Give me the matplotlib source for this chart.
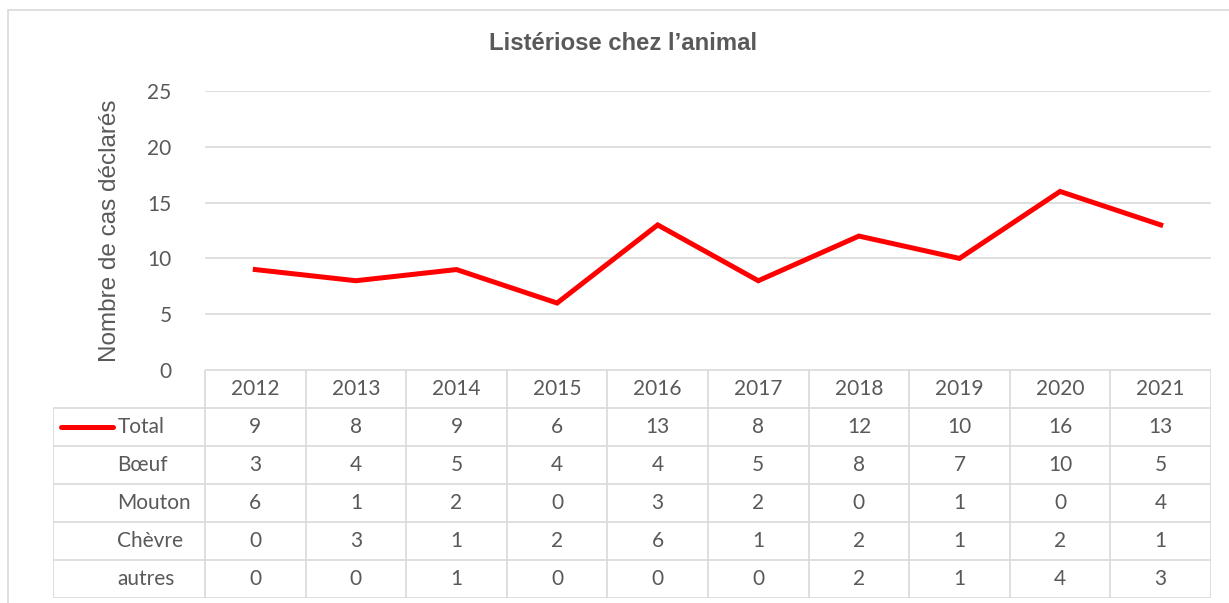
import matplotlib
matplotlib.use("Agg")
import matplotlib.pyplot as plt
from matplotlib.patches import Rectangle

years = ["2012", "2013", "2014", "2015", "2016", "2017", "2018", "2019", "2020", "2021"]
total = [9, 8, 9, 6, 13, 8, 12, 10, 16, 13]
boeuf = [3, 4, 5, 4, 4, 5, 8, 7, 10, 5]
mouton = [6, 1, 2, 0, 3, 2, 0, 1, 0, 4]
chevre = [0, 3, 1, 2, 6, 1, 2, 1, 2, 1]
autres = [0, 0, 1, 0, 0, 0, 2, 1, 4, 3]
row_names = ["Total", "Bœuf", "Mouton", "Chèvre", "autres"]
rows = [total, boeuf, mouton, chevre, autres]

W, H = 1229, 603
GRID = "#D9D9D9"
TXT = "#595959"
RED = "#FF0000"
TFONT = "Lato"
TSIZE = 15


def fx(px):
	return px / W


def fy(py):
	return 1 - py / H


fig = plt.figure(figsize=(W / 100, H / 100), dpi=100)

# outer chart frame
fig.patches.append(Rectangle((fx(7.5), fy(700)), fx(1300), fy(10.5) - fy(700),
	transform=fig.transFigure, fill=False, edgecolor=GRID, lw=1.2))

# line chart
ax = fig.add_axes([fx(205), fy(370), fx(1211) - fx(205), fy(91) - fy(370)])
x = list(range(len(years)))
ax.plot(x, total, color=RED, lw=3.6, solid_joinstyle="miter", zorder=3)
ax.set_xlim(-0.5, len(years) - 0.5)
ax.set_ylim(0, 25)
ax.set_yticks([0, 5, 10, 15, 20, 25])
ax.yaxis.grid(True, color=GRID, lw=1.2)
ax.set_axisbelow(True)
ax.set_xticks([])
for s in ax.spines.values():
	s.set_visible(False)
ax.tick_params(axis="y", length=0, pad=24, labelcolor=TXT, labelsize=TSIZE)
for lab in ax.get_yticklabels():
	lab.set_fontfamily(TFONT)
ax.set_ylabel("Nombre de cas déclarés", fontsize=17.5, color=TXT,
	fontfamily="Liberation Sans", labelpad=19)
fig.text(fx(623), fy(44), "Listériose chez l\u2019animal", ha="center", va="center",
	fontsize=17.2, fontweight="bold", color=TXT, fontfamily="Liberation Sans")

# data table
label_w = (205 - 53) / ((1211 - 205) / len(years))
tax = fig.add_axes([fx(53), fy(598), fx(1211) - fx(53), fy(370) - fy(598)])
tax.set_xlim(-0.5 - label_w, len(years) - 0.5)
tax.set_ylim(len(rows) + 1, 0)
tax.axis("off")
left = -0.5 - label_w
right = len(years) - 0.5
tax.hlines(0, -0.5, right, color=GRID, lw=1.2)
tax.hlines(range(1, len(rows) + 2), left, right, color=GRID, lw=1.2)
tax.vlines([i - 0.5 for i in range(len(years) + 1)], 0, len(rows) + 1, color=GRID, lw=1.2)
tax.vlines(left, 1, len(rows) + 1, color=GRID, lw=1.2)

for i, yr in enumerate(years):
	tax.text(i, 0.5, yr, ha="center", va="center", fontsize=TSIZE, color=TXT, fontfamily=TFONT)
for r, (name, vals) in enumerate(zip(row_names, rows)):
	yy = r + 1.5
	tax.text(left + 0.64, yy, name, ha="left", va="center", fontsize=TSIZE,
		color=TXT, fontfamily=TFONT)
	for i, v in enumerate(vals):
		tax.text(i, yy, str(v), ha="center", va="center", fontsize=TSIZE,
			color=TXT, fontfamily=TFONT)

# legend key for Total
tax.plot([left + 0.08, left + 0.6], [1.5, 1.5], color=RED, lw=3.6, solid_capstyle="round")

fig.savefig("out.png", dpi=100)
